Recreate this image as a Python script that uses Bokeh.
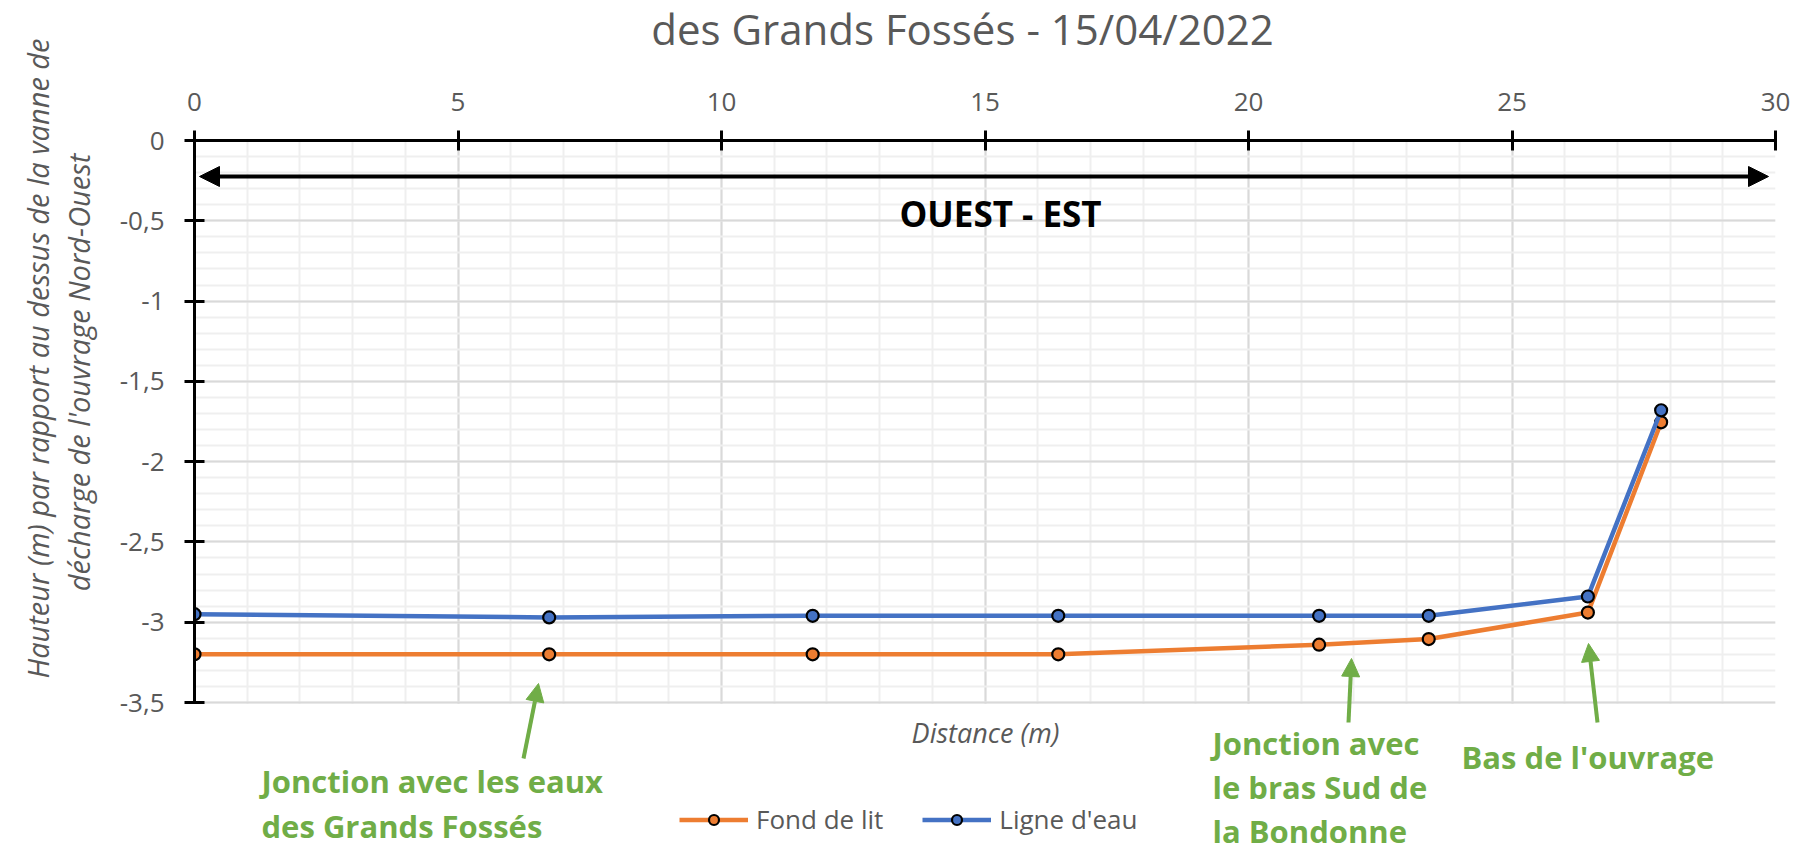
import math
from bokeh.plotting import figure
from bokeh.layouts import column, row
from bokeh.models import (Label, Arrow, NormalHead, Legend, LegendItem, BoxAnnotation,
                          SingleIntervalTicker, CustomJSTickFormatter, Range1d)
from bokeh.embed import file_html
from bokeh.resources import INLINE

# ---------------- data ----------------
distance = [0, 6.73, 11.73, 16.39, 21.34, 23.42, 26.44, 27.83]
fond_de_lit = [-3.20, -3.20, -3.20, -3.20, -3.14, -3.105, -2.94, -1.755]
ligne_eau = [-2.95, -2.97, -2.96, -2.96, -2.96, -2.96, -2.84, -1.68]
series_names = ["Fond de lit", "Ligne d'eau"]

title_text = "des Grands Fossés - 15/04/2022"
y_title_lines = ["Hauteur (m) par rapport au dessus de la vanne de",
                 "décharge de l'ouvrage Nord-Ouest"]
x_title = "Distance (m)"
direction_text = "OUEST - EST"
note_jonction_eaux = ["Jonction avec les eaux", "des Grands Fossés"]
note_jonction_bras = ["Jonction avec", "le bras Sud de", "la Bondonne"]
note_bas = ["Bas de l'ouvrage"]

# ---------------- layout (page pixels) ----------------
W, H = 1795, 851
LEFT_W = 110          # strip with the y-axis title
TOP_H = 60            # strip with the chart title
FL, FT, FW = 194, 140, 1581
CHART_BOTTOM = 702    # pixel row of y = -3.5
XMIN, XMAX, YMIN, YMAX = 0, 30, -3.5, 0

def dx(px):
    return XMIN + (px - FL) / FW * (XMAX - XMIN)

def dy(py):
    return YMAX - (py - FT) / (CHART_BOTTOM - FT) * (YMAX - YMIN)

ORANGE = "#ED7D31"
BLUE = "#4472C4"
GREEN = "#70AD47"
GREY = "#595959"
FONT = "Open Sans"

def blank(fig):
    fig.outline_line_color = None
    fig.background_fill_color = "white"
    fig.border_fill_color = "white"

# ---------------- left strip: y-axis title ----------------
lft = figure(frame_width=LEFT_W, frame_height=H, x_range=Range1d(0, LEFT_W),
             y_range=Range1d(H, 0), x_axis_type=None, y_axis_type=None,
             output_backend="svg", toolbar_location=None,
             min_border_left=0, min_border_right=0, min_border_top=0, min_border_bottom=0)
blank(lft)
lft.grid.visible = False
for (px, py), line in zip([(37, 358), (78, 372)], y_title_lines):
    lft.add_layout(Label(x=px, y=py, text=line, angle=math.pi / 2,
                         text_align="center", text_baseline="middle", text_font=FONT,
                         text_font_style="italic", text_font_size="29px", text_color=GREY))

# ---------------- top strip: chart title (frame aligned with the chart frame) ----------------
top = figure(frame_width=FW, frame_height=TOP_H, x_range=Range1d(FL, FL + FW),
             y_range=Range1d(TOP_H, 0), x_axis_type=None, y_axis_type=None,
             output_backend="svg", toolbar_location=None,
             min_border_left=FL - LEFT_W, min_border_right=W - FL - FW,
             min_border_top=0, min_border_bottom=0)
blank(top)
top.grid.visible = False
top.add_layout(Label(x=962, y=28, text=title_text, text_align="center",
                     text_baseline="middle", text_font=FONT, text_font_size="42px",
                     text_color=GREY))

# ---------------- main chart (frame runs down to the page bottom) ----------------
p = figure(frame_width=FW, frame_height=H - FT, x_axis_location="above",
           x_range=Range1d(XMIN, XMAX), y_range=Range1d(dy(H), YMAX),
           output_backend="svg", toolbar_location=None,
           min_border_left=FL - LEFT_W, min_border_top=FT - TOP_H,
           min_border_right=W - FL - FW, min_border_bottom=0)
blank(p)

p.xaxis.ticker = SingleIntervalTicker(interval=5, num_minor_ticks=5)
p.yaxis.ticker = SingleIntervalTicker(interval=0.5, num_minor_ticks=5)
p.yaxis.formatter = CustomJSTickFormatter(code="return tick.toString().replace('.', ',');")
p.yaxis.bounds = (YMIN, YMAX)
for ax in (p.xaxis[0], p.yaxis[0]):
    ax.axis_line_color = "black"
    ax.axis_line_width = 3
    ax.major_tick_line_color = "black"
    ax.major_tick_line_width = 3
    ax.major_tick_in = 10
    ax.major_tick_out = 10
    ax.minor_tick_line_color = None
    ax.major_label_text_font = FONT
    ax.major_label_text_font_size = "26px"
    ax.major_label_text_color = GREY
p.xaxis.major_label_standoff = 20
p.yaxis.major_label_standoff = 20

for g in (p.xgrid[0], p.ygrid[0]):
    g.grid_line_color = "#d9d9d9"
    g.grid_line_width = 2
    g.minor_grid_line_color = "#efefef"
    g.minor_grid_line_width = 2
p.ygrid.bounds = (YMIN, YMAX)
# keep the vertical grid inside the chart area (white below y = -3.5)
p.add_layout(BoxAnnotation(top=dy(CHART_BOTTOM + 1.5), fill_color="white", fill_alpha=1,
                           line_color=None, level="underlay"))

l1 = p.line(distance, fond_de_lit, line_color=ORANGE, line_width=4.5)
s1 = p.scatter(distance, fond_de_lit, size=12, fill_color=ORANGE, line_color="black", line_width=2.2)
l2 = p.line(distance, ligne_eau, line_color=BLUE, line_width=4.5)
s2 = p.scatter(distance, ligne_eau, size=12, fill_color=BLUE, line_color="black", line_width=2.2)

legend = Legend(items=[LegendItem(label=series_names[0], renderers=[l1, s1]),
                       LegendItem(label=series_names[1], renderers=[l2, s2])],
                orientation="horizontal", location=(485, 14),
                glyph_width=69, glyph_height=25, label_height=25, label_standoff=8,
                spacing=39, padding=0, margin=0, border_line_color=None,
                background_fill_alpha=0, label_text_font=FONT,
                label_text_font_size="26px", label_text_color=GREY)
p.add_layout(legend)

p.add_layout(Arrow(x_start=dx(199), y_start=dy(176), x_end=dx(1768), y_end=dy(176),
                   line_color="black", line_width=4,
                   start=NormalHead(size=20, fill_color="black", line_color="black"),
                   end=NormalHead(size=20, fill_color="black", line_color="black")))
p.add_layout(Label(x=dx(1000), y=dy(213), text=direction_text, text_align="center",
                   text_baseline="middle", text_font=FONT, text_font_style="bold",
                   text_font_size="35px", text_color="black"))

p.add_layout(Label(x=dx(985), y=dy(732), text=x_title, text_align="center",
                   text_baseline="middle", text_font=FONT, text_font_style="italic",
                   text_font_size="27px", text_color=GREY))

def note(lines, left, first_y, step=45):
    for i, t in enumerate(lines):
        p.add_layout(Label(x=dx(left), y=dy(first_y + i * step), text=t,
                           text_align="left", text_baseline="middle", text_font=FONT,
                           text_font_style="bold", text_font_size="31px", text_color=GREEN))

note(note_jonction_eaux, 261, 780)
note(note_jonction_bras, 1212, 742, step=44)
note(note_bas, 1461, 756)

for (x0, y0), (x1, y1) in [((523, 758), (538, 683)),
                           ((1348, 722), (1351, 658)),
                           ((1597, 722), (1588, 643))]:
    p.add_layout(Arrow(x_start=dx(x0), y_start=dy(y0), x_end=dx(x1), y_end=dy(y1),
                       line_color=GREEN, line_width=4,
                       end=NormalHead(size=18, fill_color=GREEN, line_color=GREEN)))

layout = row(lft, column(top, p, spacing=0), spacing=0)
open("out.html", "w").write(file_html(layout, INLINE))
